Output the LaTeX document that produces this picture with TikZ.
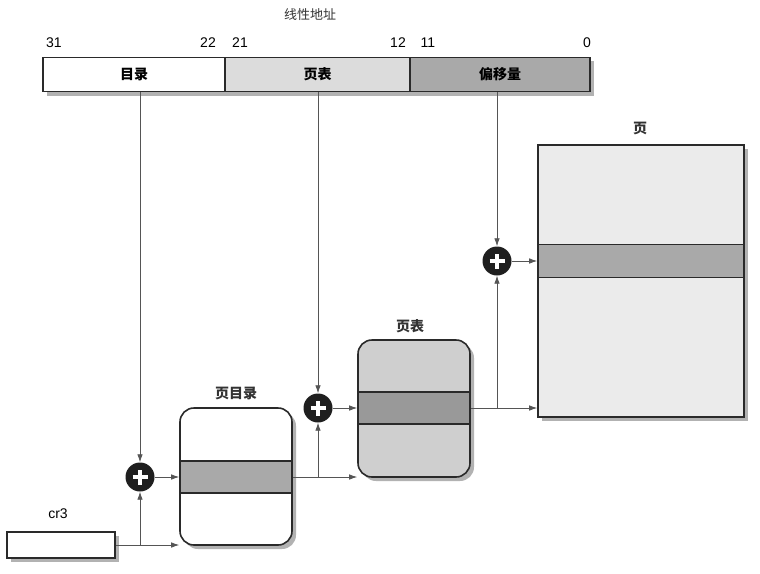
\documentclass[tikz,border=0pt]{standalone}
\usepackage{fontspec}
\setmainfont{Liberation Sans}
\newfontfamily\cjk{Noto Sans CJK SC}
\usetikzlibrary{arrows.meta,shadows}
\definecolor{edge}{HTML}{2A2A2A}
\definecolor{lightf}{HTML}{DCDCDC}
\definecolor{midf}{HTML}{A9A9A9}
\definecolor{pagef}{HTML}{EBEBEB}
\definecolor{tablef}{HTML}{CFCFCF}
\begin{document}
\begin{tikzpicture}[x=1pt,y=-1pt,
  shade/.style={drop shadow={shadow xshift=4pt,shadow yshift=-4pt,fill=black!50,opacity=0.6}},
  field/.style={draw=edge,line width=1.4pt,minimum height=34pt,inner sep=0pt,font=\cjk\bfseries\fontsize{14}{14}\selectfont},
  box/.style={draw=edge,line width=1.6pt,inner sep=0pt},
  band/.style={draw=edge,line width=1.4pt,inner sep=0pt,fill=midf},
  lab/.style={font=\cjk\bfseries\fontsize{14}{14}\selectfont,inner sep=0pt,text=black!80},
  num/.style={font=\fontsize{14}{14}\selectfont,inner sep=0pt},
  arr/.style={draw=edge!80,line width=0.8pt,-{Latex[length=8pt,width=5.5pt]}},
  plus/.style={circle,fill=black!88,minimum size=29pt,inner sep=0pt,
    path picture={\draw[white,line width=3.6pt]
      ([xshift=-7.5pt]path picture bounding box.center) -- ([xshift=7.5pt]path picture bounding box.center)
      ([yshift=-7.5pt]path picture bounding box.center) -- ([yshift=7.5pt]path picture bounding box.center);}}
]
\useasboundingbox (0,0) rectangle (760,573);
\fill[white] (0,0) rectangle (760,573);

% title and bit numbers
\node[lab,font=\cjk\fontsize{13}{13}\selectfont] (title) at (310,15) {线性地址};
\node[num] (b31) at (54,43) {31};
\node[num] (b22) at (208,43) {22};
\node[num] (b21) at (240,43) {21};
\node[num] (b12) at (398,43) {12};
\node[num] (b11) at (428,43) {11};
\node[num] (b0) at (587,43) {0};

% address bar
\fill[black!50,opacity=0.6] (47,61) rectangle (594,96);
\node[field,fill=white,minimum width=182pt] (fdir) at (134,74.5) {目录};
\node[field,fill=lightf,minimum width=185pt] (ftbl) at (317.5,74.5) {页表};
\node[field,fill=midf,minimum width=180pt] (foff) at (500,74.5) {偏移量};

% page
\node[lab] (pgl) at (640,128) {页};
\node[box,shade,fill=pagef,minimum width=206pt,minimum height=272pt] (pg) at (641,281) {};
\node[band,minimum width=206pt,minimum height=33pt] (pgb) at (641,261) {};

% page table
\node[lab] (ptl) at (410,326) {页表};
\node[box,shade,fill=tablef,rounded corners=14pt,minimum width=112pt,minimum height=137pt] (pt) at (414,408.5) {};
\node[band,fill=black!40,minimum width=112pt,minimum height=32pt] (ptb) at (414,408) {};

% page directory
\node[lab] (pdl) at (236,393) {页目录};
\node[box,shade,fill=white,rounded corners=14pt,minimum width=112pt,minimum height=137pt] (pd) at (236,476.5) {};
\node[band,minimum width=112pt,minimum height=32pt] (pdb) at (236,477) {};

% cr3
\node[num] (crl) at (58,514) {cr3};
\node[box,shade,fill=white,line width=1.4pt,minimum width=108pt,minimum height=26pt] (cr) at (61,545) {};

% adders
\node[plus] (c1) at (140,477) {};
\node[plus] (c2) at (318,408) {};
\node[plus] (c3) at (497,261) {};

% connectors
\draw[arr] (c1 |- fdir.south) -- (c1.north);
\draw[arr] (c2 |- ftbl.south) -- (c2.north);
\draw[arr] (c3 |- foff.south) -- (c3.north);

\coordinate (j1) at (c1 |- cr.east);
\draw[arr] (cr.east) -- (pd.west |- cr.east);
\draw[arr] (j1) -- (c1.south);
\draw[arr] (c1.east) -- (pd.west |- c1);

\coordinate (j2) at (c2 |- pdb.east);
\draw[arr] (pdb.east) -- (pt.west |- pdb.east);
\draw[arr] (j2) -- (c2.south);
\draw[arr] (c2.east) -- (pt.west |- c2);

\coordinate (j3) at (c3 |- ptb.east);
\draw[arr] (ptb.east) -- (pg.west |- ptb.east);
\draw[arr] (j3) -- (c3.south);
\draw[arr] (c3.east) -- (pg.west |- c3);
\end{tikzpicture}
\end{document}
